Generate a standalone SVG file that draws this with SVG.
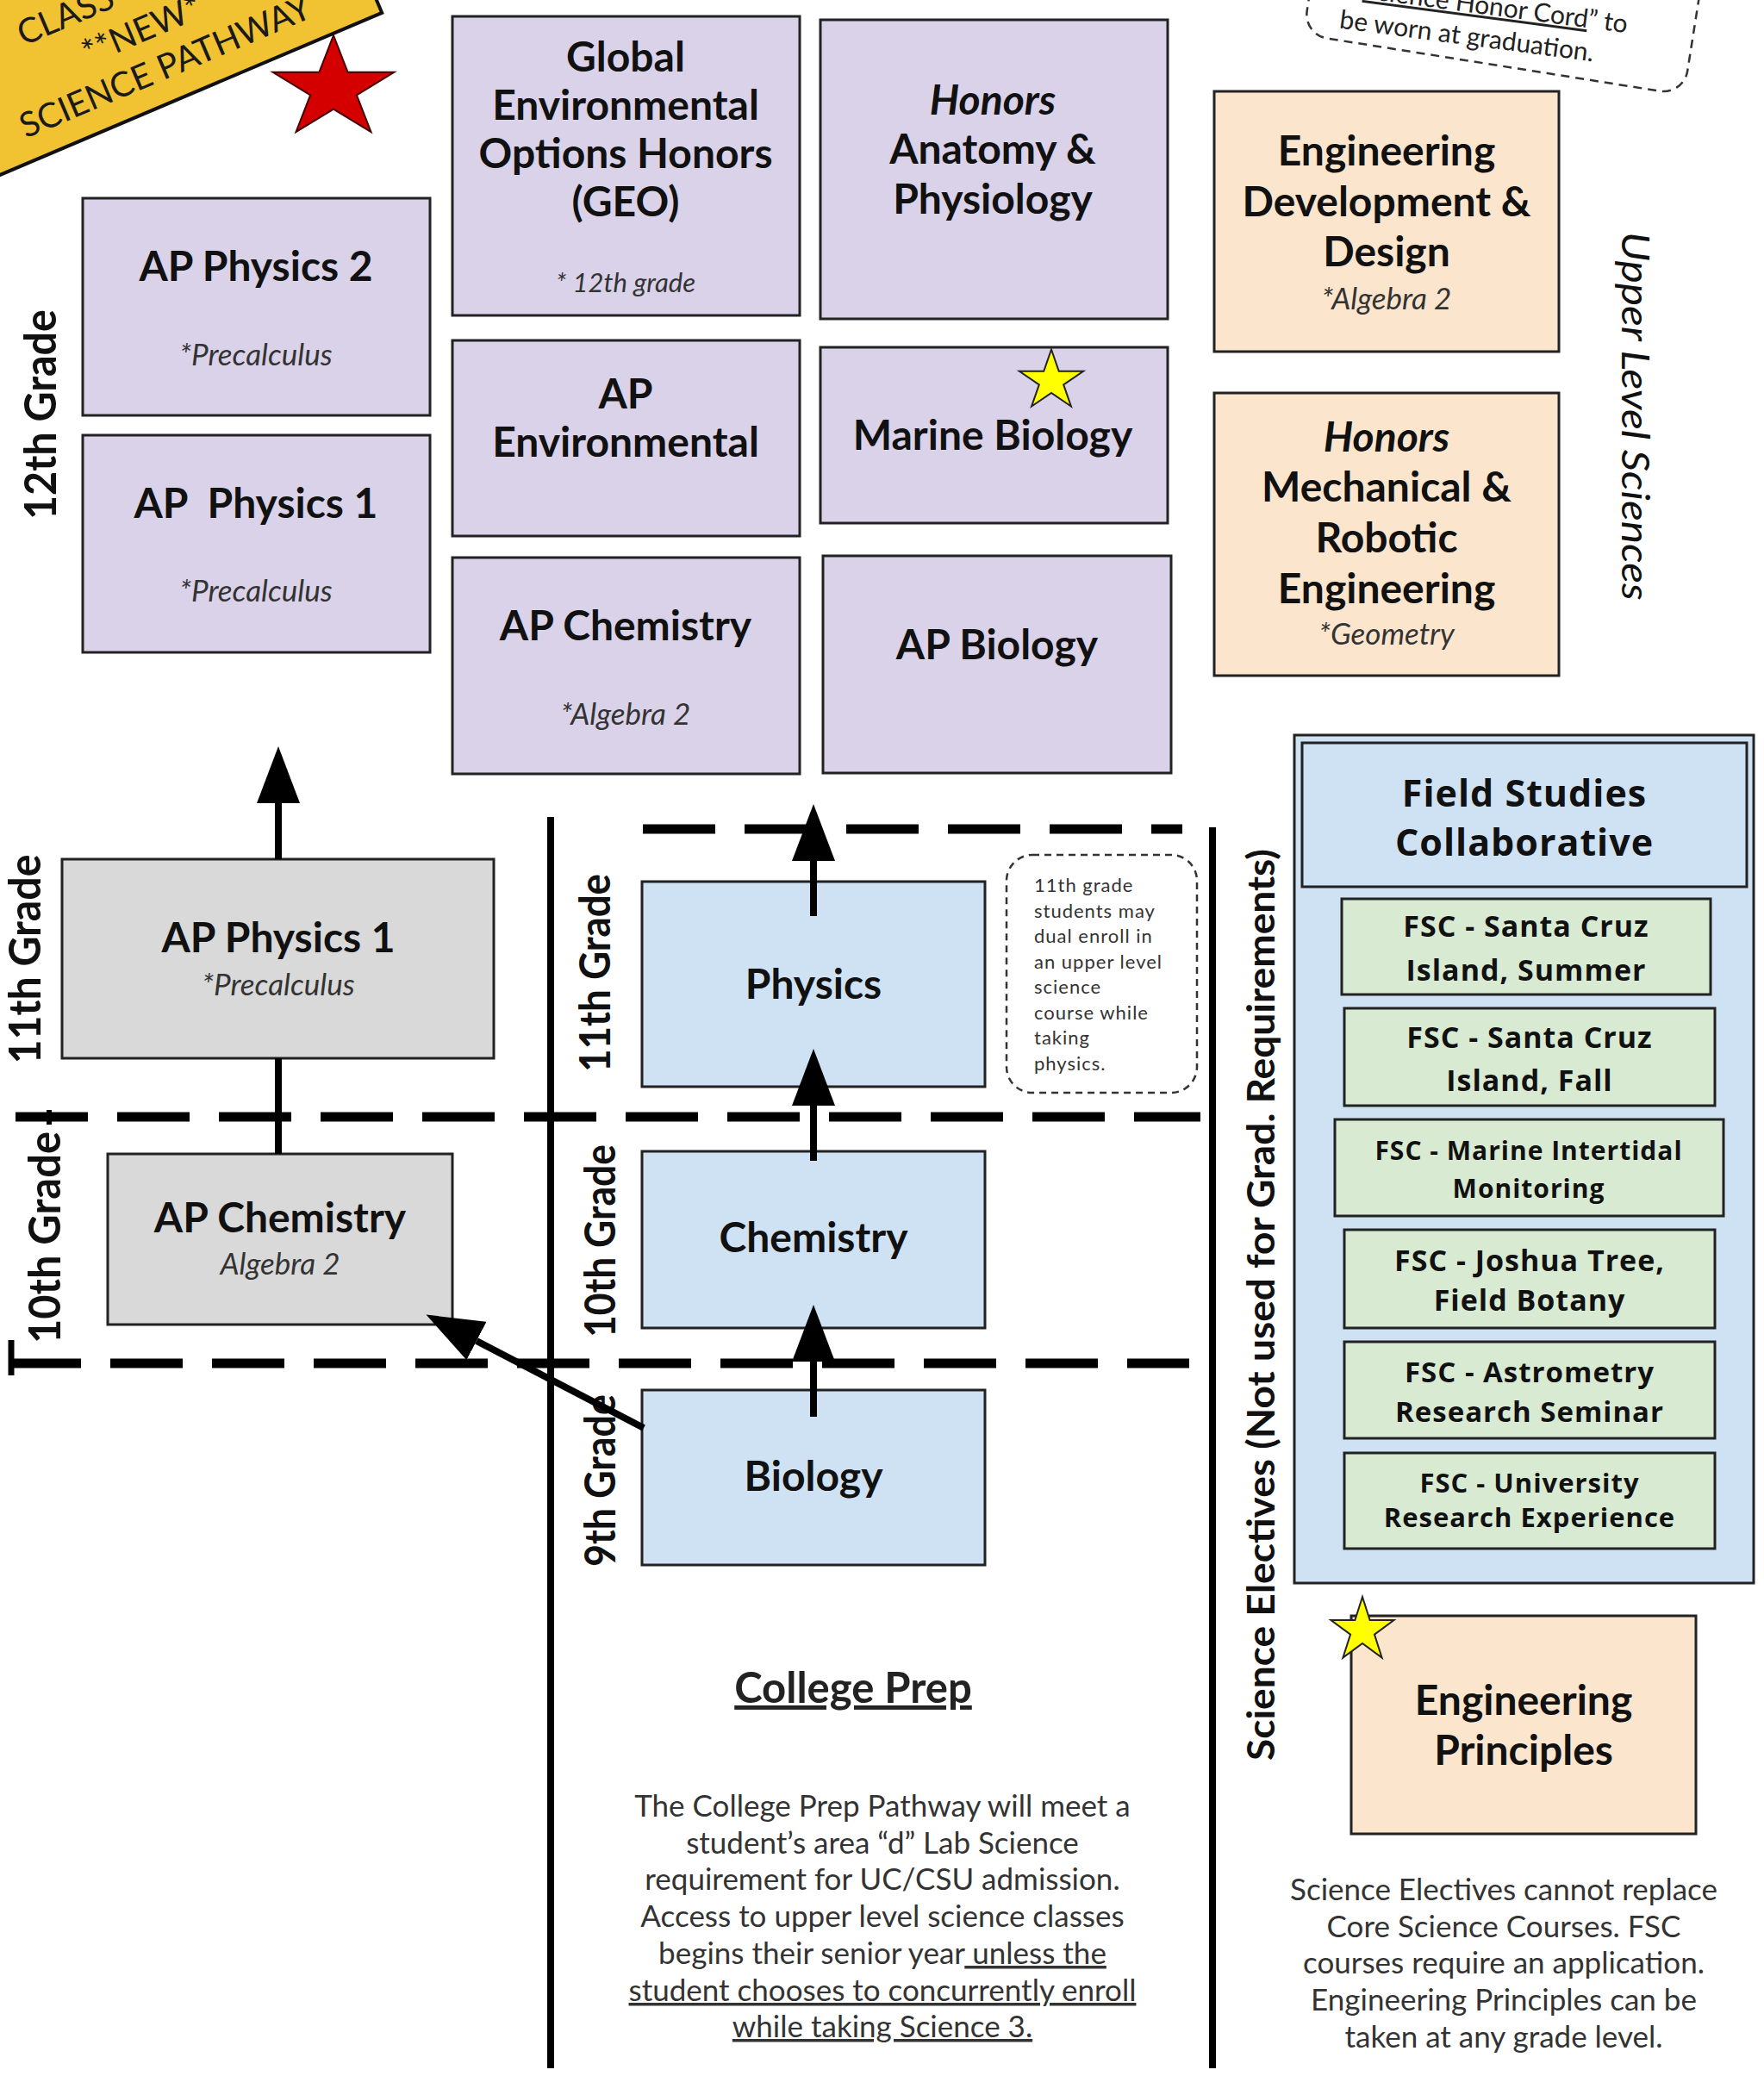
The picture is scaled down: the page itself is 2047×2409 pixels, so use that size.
<svg xmlns="http://www.w3.org/2000/svg" xmlns:xlink="http://www.w3.org/1999/xlink" width="2047" height="2409" viewBox="0 0 2047 2409">
<defs>
<style>
.box{stroke:#222;stroke-width:3}
.pur{fill:#d9d2e9}.pea{fill:#fce5cd}.blu{fill:#cfe2f3}.grn{fill:#d9ead3}.gry{fill:#d9d9d9}
text{font-family:Lato,'Liberation Sans',sans-serif}
.t{font-weight:700;font-size:48px;fill:#111;text-anchor:middle}
.hi{font-style:italic}
.s{font-style:italic;font-size:35px;fill:#333;text-anchor:middle}
.g{font-weight:700;font-size:52px;fill:#111;text-anchor:middle}
.fsc{font-family:'Open Sans',Lato,sans-serif;font-weight:700;font-size:34px;fill:#111;text-anchor:middle;letter-spacing:1px}
.p{font-size:35px;fill:#333;text-anchor:middle}
.n{font-size:22px;fill:#333;letter-spacing:1px}
.bn{font-size:40px;fill:#1a1a1a}
.dash{stroke:#000;stroke-width:11;stroke-dasharray:84 34;fill:none}
.vl{stroke:#000;stroke-width:8}
.arr{stroke:#000;stroke-width:8;marker-end:url(#ah)}
.ylw{fill:#ffff00;stroke:#222;stroke-width:2}
</style>
<marker id="ah" markerUnits="userSpaceOnUse" markerWidth="66" markerHeight="50" viewBox="0 0 66 50" refX="0" refY="25" orient="auto">
<path d="M0,0 L66,25 L0,50 z" fill="#000"/>
</marker>
<path id="star" d="M0,-100 L22.45,-30.9 L95.1,-30.9 L36.3,11.8 L58.8,80.9 L0,38.2 L-58.8,80.9 L-36.3,11.8 L-95.1,-30.9 L-22.45,-30.9 Z" vector-effect="non-scaling-stroke"/>
</defs>
<rect width="2047" height="2409" fill="#fff"/>

<!-- banner -->
<g id="banner" transform="translate(197,90) rotate(-23)">
<rect x="-500" y="-300" width="756" height="327" fill="#f1c232" stroke="#111" stroke-width="4"/>
<text class="bn" x="-142" y="-100">CLASS OF</text>
<text class="bn" x="0" y="-50" text-anchor="middle">**NEW**</text>
<text class="bn" x="0" y="0" text-anchor="middle">SCIENCE PATHWAY</text>
</g>
<use id="red-star" href="#star" transform="translate(387,103) scale(0.74,0.62)" fill="#d40000" stroke="#400" stroke-width="2"/>

<!-- honor cord note -->
<g id="honor-note">
<g transform="translate(1740,60) rotate(9)">
<rect x="-228" y="-220" width="447" height="236" rx="28" fill="#fff" stroke="#333" stroke-width="2.5" stroke-dasharray="10 7"/>
</g>
<g transform="translate(1701,52) rotate(7.5)">
<text x="183" y="-38" font-size="30" fill="#222" text-anchor="end">“<tspan text-decoration="underline">Science Honor Cord</tspan>” to</text>
<text x="0" y="0" font-size="30" fill="#222" text-anchor="middle">be worn at graduation.</text>
</g>
</g>

<!-- dividers -->
<g id="dividers">
<line class="vl" x1="639" y1="948" x2="639" y2="2400"/>
<line class="vl" x1="1407" y1="960" x2="1407" y2="2400"/>
<line class="dash" x1="746" y1="962" x2="1372" y2="962"/>
<line class="dash" x1="18" y1="1296" x2="1393" y2="1296"/>
<line class="dash" x1="10" y1="1582" x2="1380" y2="1582"/>
<line stroke="#000" stroke-width="6" x1="57" y1="1288" x2="57" y2="1305"/>
<line stroke="#000" stroke-width="7" x1="13" y1="1555" x2="13" y2="1596"/>
</g>

<!-- grade labels -->
<g id="grade-labels">
<text class="g" transform="translate(65,481) rotate(-90)" textLength="244" lengthAdjust="spacingAndGlyphs" font-size="54">12th Grade</text>
<text class="g" transform="translate(47,1113) rotate(-90)" textLength="243" lengthAdjust="spacingAndGlyphs">11th Grade</text>
<text class="g" transform="translate(70,1436) rotate(-90)" textLength="246" lengthAdjust="spacingAndGlyphs">10th Grade</text>
<text class="g" transform="translate(708,1129) rotate(-90)" textLength="230" lengthAdjust="spacingAndGlyphs" style="font-size:50px">11th Grade</text>
<text class="g" transform="translate(714,1440) rotate(-90)" textLength="224" lengthAdjust="spacingAndGlyphs" style="font-size:50px">10th Grade</text>
<text class="g" transform="translate(714,1718) rotate(-90)" textLength="200" lengthAdjust="spacingAndGlyphs" style="font-size:50px">9th Grade</text>
<text transform="translate(1882,483) rotate(90)" font-size="45" font-style="italic" fill="#111" text-anchor="middle" textLength="428" lengthAdjust="spacingAndGlyphs">Upper Level Sciences</text>
<text class="g" transform="translate(1479,1514) rotate(-90)" style="font-size:44px" textLength="1058" lengthAdjust="spacingAndGlyphs">Science Electives (Not used for Grad. Requirements)</text>
</g>

<!-- 12th grade purple nodes -->
<g id="ap-physics-2">
<rect class="box pur" x="96" y="230" width="403" height="252"/>
<text class="t" x="297" y="326">AP Physics 2</text>
<text class="s" x="297" y="424">*Precalculus</text>
</g>
<g id="ap-physics-1-12">
<rect class="box pur" x="96" y="505" width="403" height="252"/>
<text class="t" x="297" y="601" xml:space="preserve">AP  Physics 1</text>
<text class="s" x="297" y="698">*Precalculus</text>
</g>
<g id="geo">
<rect class="box pur" x="525" y="19" width="403" height="347"/>
<text class="t" x="726" y="83">Global</text>
<text class="t" x="726" y="139">Environmental</text>
<text class="t" x="726" y="195">Options Honors</text>
<text class="t" x="726" y="251">(GEO)</text>
<text class="s" x="726" y="339" style="font-size:31px">* 12th grade</text>
</g>
<g id="ap-environmental">
<rect class="box pur" x="525" y="395" width="403" height="227"/>
<text class="t" x="726" y="474">AP</text>
<text class="t" x="726" y="530">Environmental</text>
</g>
<g id="ap-chemistry-12">
<rect class="box pur" x="525" y="647" width="403" height="251"/>
<text class="t" x="726" y="743">AP Chemistry</text>
<text class="s" x="726" y="841">*Algebra 2</text>
</g>
<g id="honors-anatomy">
<rect class="box pur" x="952" y="23" width="403" height="347"/>
<text class="t hi" x="1152" y="133">Honors</text>
<text class="t" x="1152" y="190">Anatomy &amp;</text>
<text class="t" x="1152" y="248">Physiology</text>
</g>
<g id="marine-biology">
<rect class="box pur" x="952" y="403" width="403" height="204"/>
<text class="t" x="1152" y="522">Marine Biology</text>
<use href="#star" class="ylw" transform="translate(1220,442) scale(0.39,0.365)"/>
</g>
<g id="ap-biology">
<rect class="box pur" x="955" y="645" width="404" height="252"/>
<text class="t" x="1157" y="765">AP Biology</text>
</g>
<g id="engineering-dev">
<rect class="box pea" x="1409" y="106" width="400" height="302"/>
<text class="t" x="1609" y="192">Engineering</text>
<text class="t" x="1609" y="251">Development &amp;</text>
<text class="t" x="1609" y="309">Design</text>
<text class="s" x="1609" y="359">*Algebra 2</text>
</g>
<g id="honors-mechanical">
<rect class="box pea" x="1409" y="456" width="400" height="328"/>
<text class="t hi" x="1609" y="524">Honors</text>
<text class="t" x="1609" y="582">Mechanical &amp;</text>
<text class="t" x="1609" y="641">Robotic</text>
<text class="t" x="1609" y="700">Engineering</text>
<text class="s" x="1609" y="748">*Geometry</text>
</g>

<!-- accelerated pathway -->
<g id="ap-physics-1-11">
<rect class="box gry" x="72" y="997" width="501" height="231"/>
<text class="t" x="323" y="1105">AP Physics 1</text>
<text class="s" x="323" y="1155">*Precalculus</text>
</g>
<g id="ap-chemistry-10">
<rect class="box gry" x="125" y="1339" width="400" height="198"/>
<text class="t" x="325" y="1430">AP Chemistry</text>
<text class="s" x="325" y="1479">Algebra 2</text>
</g>

<!-- college prep -->
<g id="physics">
<rect class="box blu" x="745" y="1023" width="398" height="238"/>
<text class="t" x="944" y="1159">Physics</text>
</g>
<g id="chemistry">
<rect class="box blu" x="745" y="1336" width="398" height="205"/>
<text class="t" x="944" y="1453">Chemistry</text>
</g>
<g id="biology">
<rect class="box blu" x="745" y="1613" width="398" height="203"/>
<text class="t" x="944" y="1730">Biology</text>
</g>
<g id="dual-enroll-note">
<rect x="1168" y="992" width="221" height="276" rx="30" fill="#fff" stroke="#333" stroke-width="2.5" stroke-dasharray="8 6"/>
<text class="n" x="1200" y="1035">11th grade</text>
<text class="n" x="1200" y="1065">students may</text>
<text class="n" x="1200" y="1094">dual enroll in</text>
<text class="n" x="1200" y="1124">an upper level</text>
<text class="n" x="1200" y="1153">science</text>
<text class="n" x="1200" y="1183">course while</text>
<text class="n" x="1200" y="1212">taking</text>
<text class="n" x="1200" y="1242">physics.</text>
</g>
<g id="college-prep-text">
<text x="990" y="1976" font-size="49" font-weight="700" fill="#222" text-anchor="middle" text-decoration="underline">College Prep</text>
<text class="p" x="1024" y="2108">The College Prep Pathway will meet a</text>
<text class="p" x="1024" y="2151">student’s area “d” Lab Science</text>
<text class="p" x="1024" y="2193">requirement for UC/CSU admission.</text>
<text class="p" x="1024" y="2236">Access to upper level science classes</text>
<text class="p" x="1024" y="2279">begins their senior year<tspan text-decoration="underline"> unless the</tspan></text>
<text class="p" x="1024" y="2322" text-decoration="underline">student chooses to concurrently enroll</text>
<text class="p" x="1024" y="2364" text-decoration="underline">while taking Science 3.</text>
</g>

<!-- science electives -->
<g id="field-studies">
<rect class="box blu" x="1502" y="853" width="533" height="984"/>
<rect class="box blu" x="1511" y="862" width="516" height="167"/>
<text class="fsc" x="1769" y="936" style="font-size:43px">Field Studies</text>
<text class="fsc" x="1769" y="993" style="font-size:43px">Collaborative</text>
</g>
<g id="fsc-scis-summer">
<rect class="box grn" x="1557" y="1043" width="428" height="111"/>
<text class="fsc" x="1771" y="1087">FSC - Santa Cruz</text>
<text class="fsc" x="1771" y="1138">Island, Summer</text>
</g>
<g id="fsc-scis-fall">
<rect class="box grn" x="1560" y="1170" width="430" height="113"/>
<text class="fsc" x="1775" y="1216">FSC - Santa Cruz</text>
<text class="fsc" x="1775" y="1266">Island, Fall</text>
</g>
<g id="fsc-intertidal">
<rect class="box grn" x="1549" y="1299" width="451" height="112"/>
<text class="fsc" x="1774" y="1346" style="font-size:30px">FSC - Marine Intertidal</text>
<text class="fsc" x="1774" y="1390" style="font-size:30px">Monitoring</text>
</g>
<g id="fsc-joshua-tree">
<rect class="box grn" x="1560" y="1427" width="430" height="114"/>
<text class="fsc" x="1775" y="1475">FSC - Joshua Tree,</text>
<text class="fsc" x="1775" y="1521">Field Botany</text>
</g>
<g id="fsc-astrometry">
<rect class="box grn" x="1560" y="1557" width="430" height="112"/>
<text class="fsc" x="1775" y="1604" style="font-size:33px">FSC - Astrometry</text>
<text class="fsc" x="1775" y="1650" style="font-size:33px">Research Seminar</text>
</g>
<g id="fsc-university">
<rect class="box grn" x="1560" y="1686" width="430" height="111"/>
<text class="fsc" x="1775" y="1732" style="font-size:31px">FSC - University</text>
<text class="fsc" x="1775" y="1772" style="font-size:31px">Research Experience</text>
</g>
<g id="engineering-principles">
<rect class="box pea" x="1568" y="1875" width="400" height="253"/>
<text class="t" x="1768" y="1990">Engineering</text>
<text class="t" x="1768" y="2048">Principles</text>
<use href="#star" class="ylw" transform="translate(1581,1892) scale(0.384,0.39)"/>
</g>
<g id="electives-text">
<text class="p" x="1745" y="2205">Science Electives cannot replace</text>
<text class="p" x="1745" y="2248">Core Science Courses. FSC</text>
<text class="p" x="1745" y="2290">courses require an application.</text>
<text class="p" x="1745" y="2333">Engineering Principles can be</text>
<text class="p" x="1745" y="2376">taken at any grade level.</text>
</g>

<!-- connectors -->
<g id="connectors">
<line class="arr" x1="323" y1="997" x2="323" y2="932"/>
<line stroke="#000" stroke-width="8" x1="323" y1="1228" x2="323" y2="1339"/>
<line class="arr" x1="944" y1="1063" x2="944" y2="999"/>
<line class="arr" x1="944" y1="1347" x2="944" y2="1283"/>
<line class="arr" x1="944" y1="1644" x2="944" y2="1580"/>
<line class="arr" x1="747" y1="1657" x2="553" y2="1556"/>
</g>
</svg>
